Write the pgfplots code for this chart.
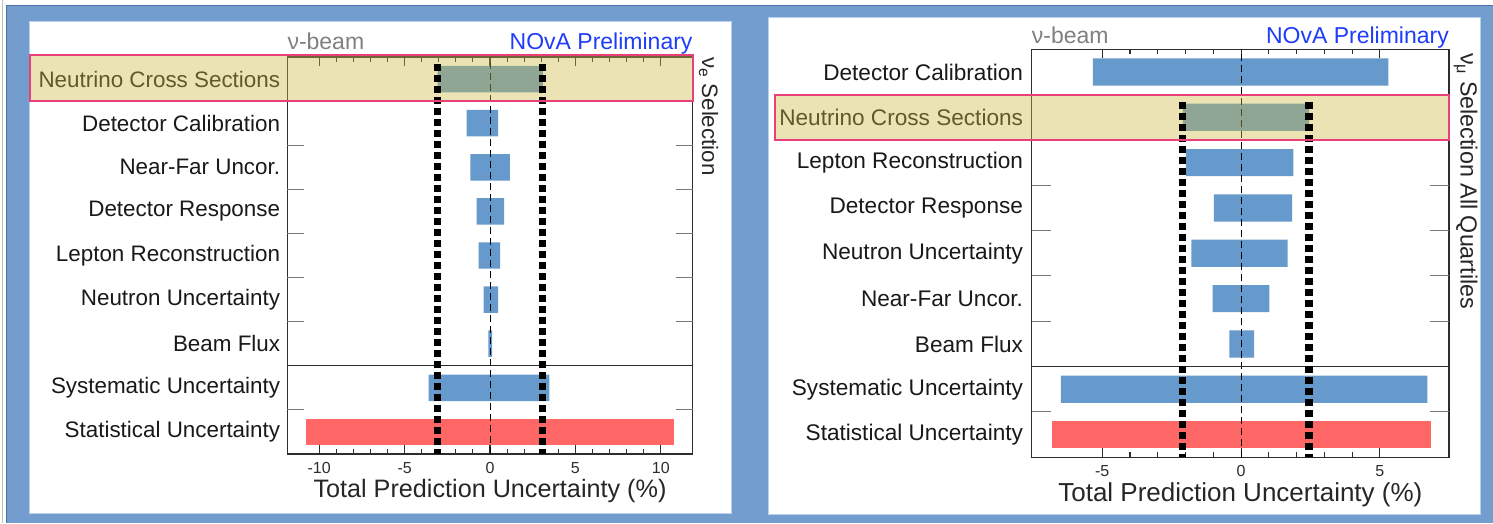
\documentclass[border=0pt]{standalone}
\usepackage{fontspec}
\setmainfont{Liberation Sans}
\usepackage{pgfplots}
\usepackage{pgfplotstable}
\pgfplotsset{compat=1.18}

\definecolor{slideblue}{RGB}{114,157,206}
\definecolor{slideedge}{RGB}{72,112,170}
\definecolor{paneledge}{RGB}{185,208,235}
\definecolor{barblue}{RGB}{102,153,204}
\definecolor{barred}{RGB}{255,102,102}
\definecolor{hlfill}{RGB}{205,187,67}
\definecolor{hledge}{RGB}{232,64,120}
\definecolor{beamgray}{RGB}{128,128,128}
\definecolor{novablue}{RGB}{30,60,250}
\definecolor{framegray}{RGB}{45,45,45}
\definecolor{tickgray}{RGB}{120,120,120}

% nu_e selection: lower / upper edge of each systematic shift (%)
\pgfplotstableread{
y lo hi
8.5 -3.06 3.09
7.5 -1.37 0.47
6.5 -1.15 1.17
5.5 -0.78 0.82
4.5 -0.66 0.59
3.5 -0.37 0.47
2.5 -0.10 0.12
1.5 -3.59 3.47
}\nueSyst
\pgfplotstableread{
y lo hi
0.5 -10.78 10.80
}\nueStat

% nu_mu selection, all quartiles
\pgfplotstableread{
y lo hi
8.5 -5.34 5.31
7.5 -2.10 2.45
6.5 -1.99 1.88
5.5 -0.98 1.84
4.5 -1.79 1.68
3.5 -1.02 1.02
2.5 -0.42 0.47
1.5 -6.49 6.71
}\numuSyst
\pgfplotstableread{
y lo hi
0.5 -6.82 6.83
}\numuStat

\tikzset{
  crossline/.style={black, line width=7.3pt, dash pattern=on 7.3pt off 3.7pt},
  zeroline/.style={black, line width=1pt, dash pattern=on 7pt off 4pt},
}

\pgfplotsset{
  panel/.style={
    scale only axis, anchor=south west,
    ymin=0, ymax=9, clip=false,
    axis line style={framegray, line width=1.2pt},
    tick align=inside, xtick pos=both,
    minor x tick num=4,
    major tick length=9pt, minor tick length=5pt,
    every tick/.style={framegray, line width=1.1pt},
    ytick={0.5,1.5,...,8.5}, ytick style={draw=none},
    yticklabel style={font=\fontsize{22.4}{26}\selectfont, anchor=east,
      inner sep=0pt, xshift=-7pt, text=black!90},
    xticklabel style={font=\fontsize{16}{18}\selectfont, text=framegray,
      anchor=base, yshift=-19.5pt},
    /pgf/number format/assume math mode=true,
    xlabel={Total Prediction Uncertainty (\%)},
    xlabel style={font=\fontsize{25.2}{28}\selectfont,
      at={(axis description cs:0.5,0)}, anchor=base, yshift=-43pt, text=black!85},
  },
  uncbar/.style={xbar, bar width=0.6, bar shift=0pt, draw=none, fill=#1},
}

\begin{document}
\begin{tikzpicture}
\path[use as bounding box] (0,0) rectangle (1493pt,523pt);
% slide background
\fill[white] (0,0) rectangle (1493pt,523pt);
\draw[black!25, line width=1pt] (2.5pt,0) -- (2.5pt,523pt);
\fill[slideblue] (6pt,0) rectangle (1493pt,518pt);
\draw[slideedge, line width=1.5pt] (6.5pt,0) -- (6.5pt,517.5pt) -- (1493pt,517.5pt);
% panels
\fill[white, draw=paneledge, line width=1pt] (29pt,10pt) rectangle (731pt,501pt);
\fill[white, draw=paneledge, line width=1pt] (768pt,9pt) rectangle (1480pt,505pt);

% ---------------- nu_e selection ----------------
\begin{axis}[panel,
  at={(287.3pt,69pt)}, width=405.4pt, height=397pt,
  xmin=-11.87, xmax=11.87,
  xtick={-10,-5,0,5,10},
  yticklabels={Statistical Uncertainty, Systematic Uncertainty, Beam Flux,
    Neutron Uncertainty, Lepton Reconstruction, Detector Response,
    Near-Far Uncor., Detector Calibration, Neutrino Cross Sections},
]
\addplot[uncbar=barblue] table[x=lo, y=y] {\nueSyst};
\addplot[uncbar=barblue] table[x=hi, y=y] {\nueSyst};
\addplot[uncbar=barred] table[x=lo, y=y] {\nueStat};
\addplot[uncbar=barred] table[x=hi, y=y] {\nueStat};
\draw[zeroline] (axis cs:0,0) -- (axis cs:0,9);
\draw[framegray, line width=1.2pt] (axis cs:-11.87,2) -- (axis cs:11.87,2);
\pgfplotsinvokeforeach{1,3,4,5,6,7,8}{
  \draw[tickgray, line width=1pt] (axis cs:-11.87,#1) -- ++(17pt,0pt);
  \draw[tickgray, line width=1pt] (axis cs:11.87,#1) -- ++(-17pt,0pt);
}
% highlighted row
\fill[hlfill, opacity=0.4] (axis cs:-26.95,8) rectangle (axis cs:11.87,9.045);
\addplot[crossline] coordinates {(-3.06,8.84) (-3.06,0)};
\addplot[crossline] coordinates {(3.09,8.84) (3.09,0)};
\draw[hledge, line width=2pt] (axis cs:-26.95,8) rectangle (axis cs:11.87,9.045);
% titles
\node[anchor=base west, inner sep=0pt, text=beamgray, font=\fontsize{23}{26}\selectfont]
  at ([yshift=8pt]rel axis cs:0,1) {ν-beam};
\node[anchor=base east, inner sep=0pt, text=novablue, font=\fontsize{23}{26}\selectfont]
  at ([yshift=8pt]rel axis cs:1,1) {NOvA Preliminary};
\node[rotate=-90, anchor=base west, inner sep=0pt, text=black!85, font=\fontsize{22.3}{26}\selectfont]
  at ([xshift=9.5pt]rel axis cs:1,1) {ν\textsubscript{e} Selection};
\end{axis}

% ---------------- nu_mu selection ----------------
\begin{axis}[panel,
  at={(1031.7pt,65.7pt)}, width=417.3pt, height=408pt,
  xmin=-7.54, xmax=7.49,
  xtick={-5,0,5},
  yticklabel style={font=\fontsize{22.6}{26}\selectfont, xshift=-1.5pt},
  xlabel style={font=\fontsize{26}{29}\selectfont, yshift=-1.4pt},
  yticklabels={Statistical Uncertainty, Systematic Uncertainty, Beam Flux,
    Near-Far Uncor., Neutron Uncertainty, Detector Response,
    Lepton Reconstruction, Neutrino Cross Sections, Detector Calibration},
]
\addplot[uncbar=barblue] table[x=lo, y=y] {\numuSyst};
\addplot[uncbar=barblue] table[x=hi, y=y] {\numuSyst};
\addplot[uncbar=barred] table[x=lo, y=y] {\numuStat};
\addplot[uncbar=barred] table[x=hi, y=y] {\numuStat};
\draw[zeroline] (axis cs:0,0) -- (axis cs:0,9);
\draw[framegray, line width=1.2pt] (axis cs:-7.54,2) -- (axis cs:7.49,2);
\pgfplotsinvokeforeach{1,3,4,5,6,7,8}{
  \draw[tickgray, line width=1pt] (axis cs:-7.54,#1) -- ++(19pt,0pt);
  \draw[tickgray, line width=1pt] (axis cs:7.49,#1) -- ++(-19pt,0pt);
}
% highlighted row
\fill[hlfill, opacity=0.4] (axis cs:-16.77,7) rectangle (axis cs:7.5,8);
\addplot[crossline] coordinates {(-2.10,7.84) (-2.10,0)};
\addplot[crossline] coordinates {(2.45,7.84) (2.45,0)};
\draw[hledge, line width=2pt] (axis cs:-16.77,7) rectangle (axis cs:7.5,8);
% titles
\node[anchor=base west, inner sep=0pt, text=beamgray, font=\fontsize{23}{26}\selectfont]
  at ([yshift=5.5pt]rel axis cs:0,1) {ν-beam};
\node[anchor=base east, inner sep=0pt, text=novablue, font=\fontsize{23}{26}\selectfont]
  at ([yshift=5.5pt]rel axis cs:1,1) {NOvA Preliminary};
\node[rotate=-90, anchor=base west, inner sep=0pt, text=black!85, font=\fontsize{23.3}{26}\selectfont]
  at ([xshift=11.5pt, yshift=-3.7pt]rel axis cs:1,1) {ν\textsubscript{μ} Selection All Quartiles};
\end{axis}
\end{tikzpicture}
\end{document}
